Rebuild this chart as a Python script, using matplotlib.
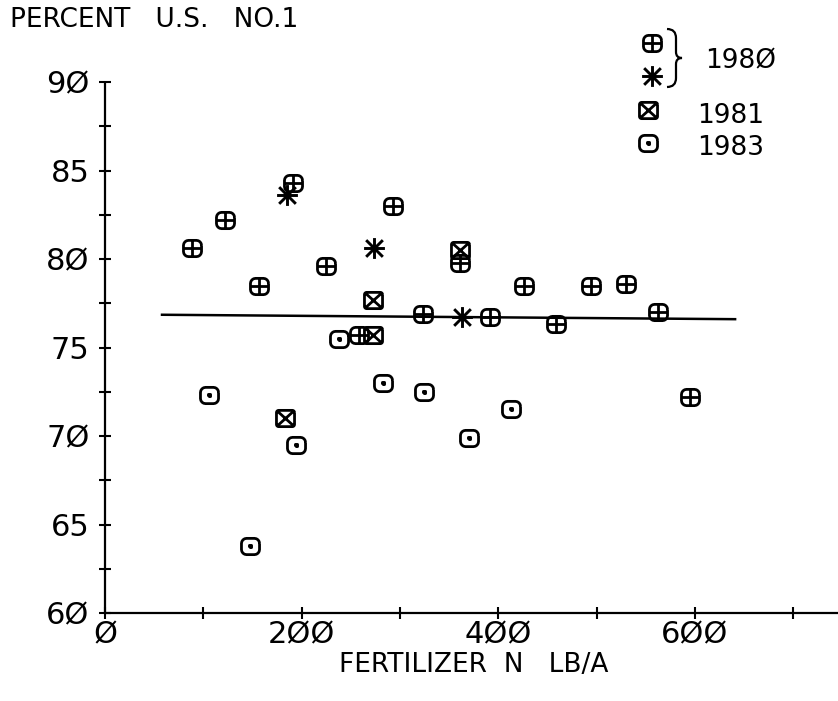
import numpy as np
import matplotlib
matplotlib.use("Agg")
import matplotlib.pyplot as plt
from matplotlib.path import Path
from matplotlib.patches import PathPatch

# 1980 plots (boxed plus), 1980 asterisk, 1981 boxed-x, 1983 boxed dot
plus80_x = [88, 122, 157, 191, 225, 258, 293, 323, 361, 392, 426, 459, 494, 530, 563, 595]
plus80_y = [80.6, 82.2, 78.5, 84.3, 79.6, 75.7, 83.0, 76.9, 79.8, 76.7, 78.5, 76.3, 78.5, 78.6, 77.0, 72.2]
star80_x = [185, 274, 363]
star80_y = [83.6, 80.6, 76.7]
box81_x = [183, 273, 273, 361]
box81_y = [71.0, 77.7, 75.7, 80.5]
dot83_x = [106, 148, 194, 238, 283, 325, 370, 413]
dot83_y = [72.3, 63.8, 69.5, 75.5, 73.0, 72.5, 69.9, 71.5]

# fitted line
line_x = [58, 641]
line_y = [76.85, 76.6]

xticks_lab = [0, 200, 400, 600]
xticks_lab_txt = ["Ø", "2ØØ", "4ØØ", "6ØØ"]
xticks_min = [100, 300, 500, 700]
yticks_lab = [60, 65, 70, 75, 80, 85, 90]
yticks_lab_txt = ["6Ø", "65", "7Ø", "75", "8Ø", "85", "9Ø"]
yticks_min = [62.5, 67.5, 72.5, 77.5, 82.5, 87.5]

legend_txt = ["198Ø", "1981", "1983"]


def rbox(w=1.0, h=0.9, r=0.28, n=5):
    # rounded rectangle outline
    pts = []
    cs = [(w/2-r, h/2-r, 0), (-w/2+r, h/2-r, 90), (-w/2+r, -h/2+r, 180), (w/2-r, -h/2+r, 270)]
    for cx, cy, a0 in cs:
        for t in np.linspace(a0, a0+90, n):
            pts.append((cx + r*np.cos(np.radians(t)), cy + r*np.sin(np.radians(t))))
    pts.append(pts[0])
    codes = [Path.MOVETO] + [Path.LINETO]*(len(pts)-1)
    return pts, codes


def seg(verts, codes, p0, p1):
    verts += [p0, p1]
    codes += [Path.MOVETO, Path.LINETO]


def mk_plus():
    v, c = rbox()
    seg(v, c, (-0.5, 0), (0.5, 0))
    seg(v, c, (0, -0.45), (0, 0.45))
    return Path(v, c)


def mk_xbox():
    v, c = rbox(r=0.12)
    seg(v, c, (-0.42, -0.38), (0.42, 0.38))
    seg(v, c, (-0.42, 0.38), (0.42, -0.38))
    return Path(v, c)


def mk_dot():
    v, c = rbox()
    d = 0.06
    v += [(-d, -d), (d, -d), (d, d), (-d, d), (-d, -d)]
    c += [Path.MOVETO] + [Path.LINETO]*4
    return Path(v, c)


def mk_star():
    v, c = [], []
    seg(v, c, (-0.5, 0), (0.5, 0))
    seg(v, c, (0, -0.5), (0, 0.5))
    seg(v, c, (-0.4, -0.4), (0.4, 0.4))
    seg(v, c, (-0.4, 0.4), (0.4, -0.4))
    return Path(v, c)


m_plus, m_xbox, m_dot, m_star = mk_plus(), mk_xbox(), mk_dot(), mk_star()

plt.rcParams['font.family'] = ['DejaVu Sans']

W, H = 838, 701
fig = plt.figure(figsize=(W/100, H/100), dpi=100)
ax = fig.add_axes([105/W, 88/H, 733/W, 531/H])
ax.set_xlim(0, 733/0.983)
ax.set_ylim(60, 90)

for s in ['top', 'right']:
    ax.spines[s].set_visible(False)
for s in ['left', 'bottom']:
    ax.spines[s].set_linewidth(1.6)
    ax.spines[s].set_capstyle('butt')

ax.set_xticks(xticks_lab)
ax.set_xticklabels(xticks_lab_txt)
ax.set_xticks(xticks_min, minor=True)
ax.set_yticks(yticks_lab)
ax.set_yticklabels(yticks_lab_txt)
ax.set_yticks(yticks_min, minor=True)
ax.tick_params(which='both', direction='inout', length=9, width=1.5, color='k')
ax.tick_params(axis='y', pad=6.5, labelsize=22)
ax.tick_params(axis='x', pad=1, labelsize=22)

ms, mew = 13, 2.0
ax.plot(line_x, line_y, color='k', lw=1.8, zorder=2)
ax.plot(plus80_x, plus80_y, ls='none', marker=m_plus, ms=ms, mfc='none', mec='k', mew=mew, zorder=3)
ax.plot(star80_x, star80_y, ls='none', marker=m_star, ms=15, mfc='none', mec='k', mew=2.1, zorder=3)
ax.plot(box81_x, box81_y, ls='none', marker=m_xbox, ms=ms, mfc='none', mec='k', mew=mew, zorder=3)
ax.plot(dot83_x, dot83_y, ls='none', marker=m_dot, ms=ms, mfc='none', mec='k', mew=mew, zorder=3)

ax.set_xlabel("FERTILIZER  N   LB/A", fontsize=19)
ax.xaxis.set_label_coords((474-105)/733, -(665-613)/531)
ax.xaxis.label.set_va('center')

# overlay in pixel coords for title and legend
ov = fig.add_axes([0, 0, 1, 1], facecolor='none')
ov.set_xlim(0, W)
ov.set_ylim(H, 0)
ov.axis('off')

ov.text(10, 20, "PERCENT   U.S.   NO.1", fontsize=19, ha='left', va='center')

ov.plot([652], [43], marker=m_plus, ms=ms, mfc='none', mec='k', mew=mew)
ov.plot([652], [76], marker=m_star, ms=15, mfc='none', mec='k', mew=2.1)
ov.plot([648], [110], marker=m_xbox, ms=ms, mfc='none', mec='k', mew=mew)
ov.plot([648], [143], marker=m_dot, ms=ms, mfc='none', mec='k', mew=mew)

# curly bracket
bv = [(667, 29), (676, 29), (676, 38), (676, 52), (676, 58), (682, 58), (676, 58),
      (676, 64), (676, 78), (676, 87), (667, 87)]
bc = [Path.MOVETO, Path.CURVE3, Path.CURVE3, Path.LINETO, Path.CURVE3, Path.CURVE3,
      Path.CURVE3, Path.CURVE3, Path.LINETO, Path.CURVE3, Path.CURVE3]
ov.add_patch(PathPatch(Path(bv, bc), fill=False, lw=1.6, ec='k'))

ov.text(705, 61, legend_txt[0], fontsize=19, ha='left', va='center')
ov.text(697, 116, legend_txt[1], fontsize=19, ha='left', va='center')
ov.text(697, 148, legend_txt[2], fontsize=19, ha='left', va='center')

fig.savefig("out.png", dpi=100, facecolor='white')
